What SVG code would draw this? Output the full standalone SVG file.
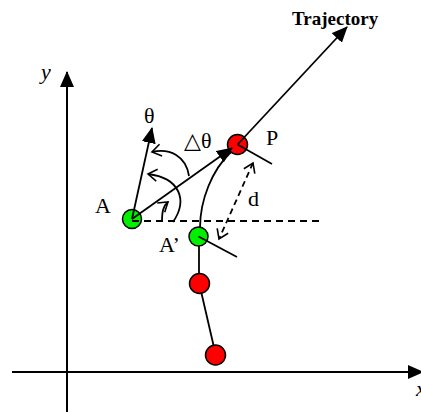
<svg xmlns="http://www.w3.org/2000/svg" width="421" height="412" viewBox="0 0 421 412">
<style>
.ln{fill:none;stroke:#000;stroke-width:1.8}
.ax{fill:none;stroke:#000;stroke-width:2}
.dash{stroke-dasharray:7 5}
.dsh2{stroke-dasharray:6 4}
.g{fill:#00f000;stroke:#000;stroke-width:1.5}
.r{fill:#ff0000;stroke:#000;stroke-width:1.5}
.t{font-family:"Liberation Serif","DejaVu Serif",serif;font-size:22px;fill:#000}
.tb{font-family:"Liberation Serif","DejaVu Serif",serif;font-size:19px;font-weight:bold;fill:#000}
.ti{font-family:"Liberation Serif","DejaVu Serif",serif;font-size:22px;font-style:italic;fill:#000}
</style>
<defs>
<marker id="fa" markerUnits="userSpaceOnUse" viewBox="0 0 16 14" refX="15" refY="7" markerWidth="16" markerHeight="14" orient="auto">
<path d="M0,0 L16,7 L0,14 z" fill="#000"/>
</marker>
<marker id="oa" markerUnits="userSpaceOnUse" viewBox="0 0 12 14" refX="10" refY="7" markerWidth="12" markerHeight="14" orient="auto-start-reverse">
<path d="M1,1 L10,7 L1,13" fill="none" stroke="#000" stroke-width="1.6"/>
</marker>
</defs>
<g id="axes">
<line class="ax" x1="67" y1="412" x2="67" y2="72" marker-end="url(#fa)"/>
<line class="ax" x1="12" y1="372" x2="423" y2="372" marker-end="url(#fa)"/>
<text class="ti" x="41" y="79">y</text>
<text class="ti" x="416" y="396">x</text>
</g>
<g id="nodeA"><circle class="g" cx="132" cy="219" r="9.5"/><text class="t" x="95" y="213">A</text></g>
<g id="nodeA2"><circle class="g" cx="198.5" cy="236.5" r="9.5"/><text class="t" x="159" y="252">A’</text></g>
<g id="nodeP"><circle class="r" cx="237.5" cy="144.5" r="10"/><text class="t" x="266" y="145">P</text></g>
<g id="nodeR1"><circle class="r" cx="199.5" cy="283.5" r="10"/></g>
<g id="nodeR2"><circle class="r" cx="215.5" cy="355" r="10"/></g>
<g id="connectors">
<line class="ln dash" x1="132" y1="221" x2="322" y2="221"/>
<line class="ln" x1="132" y1="219" x2="152" y2="128" marker-end="url(#fa)"/>
<line class="ln" x1="132" y1="219" x2="232" y2="148" marker-end="url(#fa)"/>
<line class="ln" x1="237.5" y1="144.5" x2="347" y2="27" marker-end="url(#fa)"/>
<line class="ln" x1="237.5" y1="144.5" x2="272" y2="164"/>
<line class="ln" x1="198.5" y1="236.5" x2="237" y2="257"/>
<path class="ln" d="M200,228 C200,200 212,170 231,152"/>
<line class="ln" x1="199" y1="246" x2="199" y2="273.5"/>
<line class="ln" x1="201.5" y1="293.3" x2="213.5" y2="345.2"/>
<line class="ln dsh2" x1="253" y1="163" x2="219" y2="239" marker-start="url(#oa)" marker-end="url(#oa)"/>
<path class="ln" d="M189,176 C186,156 170,148 152,152" marker-end="url(#oa)"/>
<path class="ln" d="M173,222 C188,200 180,178 148,174" marker-end="url(#oa)"/>
<path class="ln" d="M162,222 C162,212 163,206 168,202" marker-end="url(#oa)"/>
</g>
<g id="labels">
<text class="t" x="144" y="123">θ</text>
<text class="t" x="184" y="148">△θ</text>
<text class="t" x="248" y="206">d</text>
<text class="tb" x="292" y="25">Trajectory</text>
</g>
</svg>
